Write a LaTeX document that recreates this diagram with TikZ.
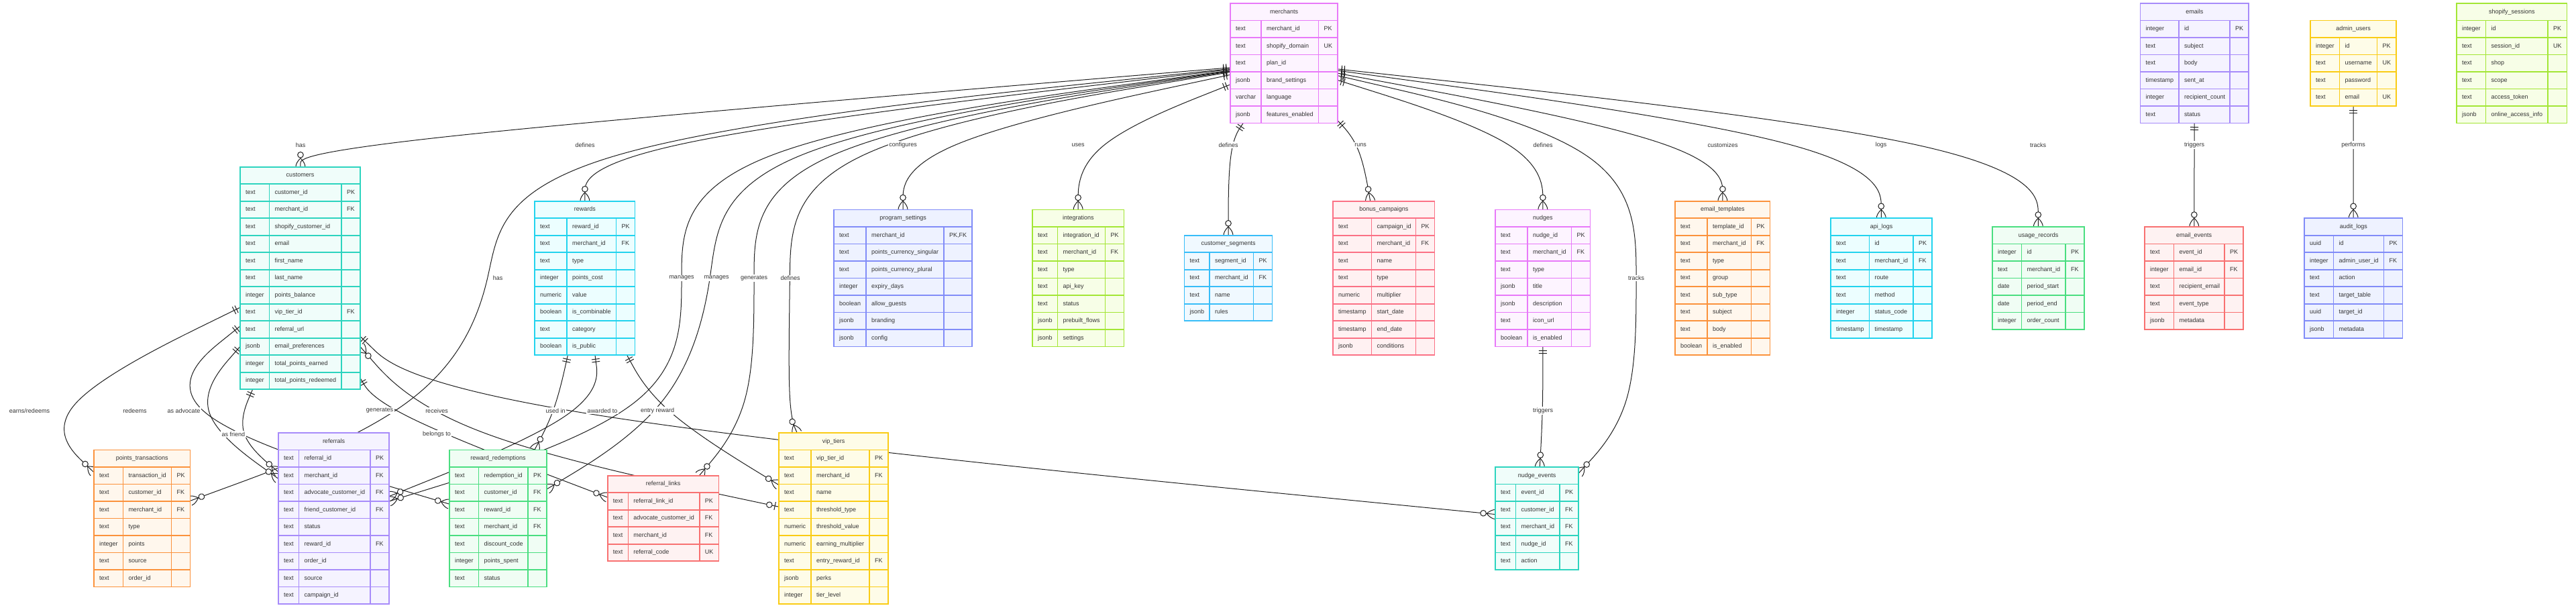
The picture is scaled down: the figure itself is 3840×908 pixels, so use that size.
\documentclass[tikz,border=0pt]{standalone}
\usepackage{fontspec}
\setmainfont{Liberation Sans}
\usetikzlibrary{calc,fit,backgrounds,positioning}

\definecolor{ertext}{HTML}{333333}
\definecolor{erline}{HTML}{1F1F1F}
\definecolor{erfuchsia}{HTML}{E879F9}\definecolor{erfuchsiabg}{HTML}{FDF4FF}
\definecolor{erteal}{HTML}{2DD4BF}\definecolor{ertealbg}{HTML}{F0FDFA}
\definecolor{ercyan}{HTML}{22D3EE}\definecolor{ercyanbg}{HTML}{ECFEFF}
\definecolor{erindigo}{HTML}{818CF8}\definecolor{erindigobg}{HTML}{EEF2FF}
\definecolor{erlime}{HTML}{A3E635}\definecolor{erlimebg}{HTML}{F7FEE7}
\definecolor{ersky}{HTML}{38BDF8}\definecolor{erskybg}{HTML}{F0F9FF}
\definecolor{errose}{HTML}{FB7185}\definecolor{errosebg}{HTML}{FFF1F2}
\definecolor{erorange}{HTML}{FB923C}\definecolor{erorangebg}{HTML}{FFF7ED}
\definecolor{ergreen}{HTML}{4ADE80}\definecolor{ergreenbg}{HTML}{F0FDF4}
\definecolor{erviolet}{HTML}{A78BFA}\definecolor{ervioletbg}{HTML}{F5F3FF}
\definecolor{eryellow}{HTML}{FACC15}\definecolor{eryellowbg}{HTML}{FEFCE8}
\definecolor{erred}{HTML}{F87171}\definecolor{erredbg}{HTML}{FEF2F2}

% crow's foot ends (tip sits on the table border)
\pgfdeclarearrow{
  name = ER one,
  setup code = {\pgfarrowssettipend{0pt}\pgfarrowssetlineend{0pt}\pgfarrowssetbackend{-11pt}},
  drawing code = {
    \pgfsetdash{}{0pt}
    \pgfpathmoveto{\pgfqpoint{-6pt}{-6pt}}\pgfpathlineto{\pgfqpoint{-6pt}{6pt}}
    \pgfpathmoveto{\pgfqpoint{-10pt}{-6pt}}\pgfpathlineto{\pgfqpoint{-10pt}{6pt}}
    \pgfusepathqstroke
  }
}
\pgfdeclarearrow{
  name = ER zmany,
  setup code = {\pgfarrowssettipend{0pt}\pgfarrowssetlineend{0pt}\pgfarrowssetbackend{-23pt}},
  drawing code = {
    \pgfsetdash{}{0pt}
    \pgfpathmoveto{\pgfqpoint{-13pt}{0pt}}
    \pgfpathquadraticcurveto{\pgfqpoint{-6pt}{7pt}}{\pgfqpoint{0pt}{7pt}}
    \pgfpathmoveto{\pgfqpoint{-13pt}{0pt}}
    \pgfpathquadraticcurveto{\pgfqpoint{-6pt}{-7pt}}{\pgfqpoint{0pt}{-7pt}}
    \pgfusepathqstroke
    \pgfpathcircle{\pgfqpoint{-18pt}{0pt}}{4.3pt}
    \pgfsetfillcolor{white}
    \pgfusepathqfillstroke
  }
}
\pgfdeclarearrow{
  name = ER zone,
  setup code = {\pgfarrowssettipend{0pt}\pgfarrowssetlineend{0pt}\pgfarrowssetbackend{-19pt}},
  drawing code = {
    \pgfsetdash{}{0pt}
    \pgfpathmoveto{\pgfqpoint{-6pt}{-6pt}}\pgfpathlineto{\pgfqpoint{-6pt}{6pt}}
    \pgfusepathqstroke
    \pgfpathcircle{\pgfqpoint{-14.5pt}{0pt}}{4.3pt}
    \pgfsetfillcolor{white}
    \pgfusepathqfillstroke
  }
}

% entity: name, title, top left, type/name/key widths, colour, rows
\newcommand{\ertable}[8]{%
  \pgfmathsetmacro{\erwt}{#4+#5+#6-16}%
  \pgfmathsetmacro{\erwa}{#4-16}\pgfmathsetmacro{\erwb}{#5-16}\pgfmathsetmacro{\erwc}{#6-16}%
  \node[ercell, draw=#7, fill=#7bg, text width=\erwt pt, align=center] (#1-h) at (#3) {#2};
  \foreach \ty/\nm/\ky [count=\i] in {#8} {
    \node[ercell, draw=#7, fill=#7bg, text width=\erwa pt] (#1-t\i)
      at ($(#1-h.south west)+(0,25.5*\i-25.5)$) {\ty};
    \node[ercell, draw=#7, fill=#7bg, text width=\erwb pt] (#1-n\i) at (#1-t\i.north east) {\nm};
    \node[ercell, draw=#7, fill=#7bg, text width=\erwc pt] (#1-k\i) at (#1-n\i.north east) {\ky};
    \xdef\erlast{\i}
  }
  \node[fit=(#1-h)(#1-k\erlast), inner sep=0pt, outer sep=0pt] (#1) {};
}

% relation through its label: from, label, to
\newcommand{\relshort}[4]{%
  \path (#2) -- (#3) coordinate[pos=0] (ra);
  \path (#4) -- (#3) coordinate[pos=0] (rb);
  \draw[rel,#1] (ra) -- ($(ra)!0.1666667!(#3)$)
    .. controls ($(ra)!0.3333333!(#3)$) and ($(ra)!0.6666667!(#3)$)
    .. ($0.1666667*(ra)+0.6666667*(#3)+0.1666667*(rb)$)
    .. controls ($(#3)!0.3333333!(rb)$) and ($(#3)!0.6666667!(rb)$)
    .. ($(#3)!0.8333333!(rb)$) -- (rb);
}
% relation over two ranks: from, bend, label, bend, to
\newcommand{\rellong}[6]{%
  \path (#2) -- (#3) coordinate[pos=0] (ra);
  \path (#6) -- (#5) coordinate[pos=0] (rb);
  \draw[rel,#1] (ra) -- ($(ra)!0.1666667!(#3)$)
    .. controls ($(ra)!0.3333333!(#3)$) and ($(ra)!0.6666667!(#3)$)
    .. ($0.1666667*(ra)+0.6666667*(#3)+0.1666667*(#4)$)
    .. controls ($(#3)!0.3333333!(#4)$) and ($(#3)!0.6666667!(#4)$)
    .. ($0.1666667*(#3)+0.6666667*(#4)+0.1666667*(#5)$)
    .. controls ($(#4)!0.3333333!(#5)$) and ($(#4)!0.6666667!(#5)$)
    .. ($0.1666667*(#4)+0.6666667*(#5)+0.1666667*(rb)$)
    .. controls ($(#5)!0.3333333!(rb)$) and ($(#5)!0.6666667!(rb)$)
    .. ($(#5)!0.8333333!(rb)$) -- (rb);
}

\begin{document}
\begin{tikzpicture}[x=1pt, y=-1pt,
  ercell/.style={rectangle, anchor=north west, line width=1.6pt, inner xsep=8pt,
    inner ysep=0pt, outer sep=0pt, minimum height=25.5pt, align=left,
    font=\fontsize{9}{11}\selectfont, text=ertext, text height=6.6pt, text depth=2pt},
  erlabel/.style={fill=white, inner sep=1.5pt, font=\fontsize{9}{11}\selectfont, text=ertext},
  rel/.style={line width=1pt, draw=erline},
  onemany/.style={arrows={{ER one}-{ER zmany}}},
  manyzone/.style={arrows={{ER zmany}-{ER zone}}}
]
\useasboundingbox (0,0) rectangle (3840,908);

% rank 0
\ertable{merchants}{merchants}{1834,5}{46}{85.5}{28.5}{erfuchsia}{
  text/merchant\_id/PK, text/shopify\_domain/UK, text/plan\_id/{},
  jsonb/brand\_settings/{}, varchar/language/{}, jsonb/features\_enabled/{}}
\ertable{emails}{emails}{3190.5,5}{57.5}{76}{28}{erviolet}{
  integer/id/PK, text/subject/{}, text/body/{}, timestamp/sent\_at/{},
  integer/recipient\_count/{}, text/status/{}}
\ertable{admins}{admin\_users}{3444,30.5}{43.5}{56}{28.5}{eryellow}{
  integer/id/PK, text/username/UK, text/password/{}, text/email/UK}
\ertable{sessions}{shopify\_sessions}{3662,5}{43.5}{92.5}{28.5}{erlime}{
  integer/id/PK, text/session\_id/UK, text/shop/{}, text/scope/{},
  text/access\_token/{}, jsonb/online\_access\_info/{}}

% rank 1
\ertable{customers}{customers}{358,248.75}{43.5}{107.5}{28}{erteal}{
  text/customer\_id/PK, text/merchant\_id/FK, text/shopify\_customer\_id/{},
  text/email/{}, text/first\_name/{}, text/last\_name/{}, integer/points\_balance/{},
  text/vip\_tier\_id/FK, text/referral\_url/{}, jsonb/email\_preferences/{},
  integer/total\_points\_earned/{}, integer/total\_points\_redeemed/{}}
\ertable{rewards}{rewards}{797,299.75}{48}{73.5}{28}{ercyan}{
  text/reward\_id/PK, text/merchant\_id/FK, text/type/{}, integer/points\_cost/{},
  numeric/value/{}, boolean/is\_combinable/{}, text/category/{}, boolean/is\_public/{}}
\ertable{settings}{program\_settings}{1243,312.5}{48}{116}{42}{erindigo}{
  text/merchant\_id/{PK,FK}, text/points\_currency\_singular/{},
  text/points\_currency\_plural/{}, integer/expiry\_days/{}, boolean/allow\_guests/{},
  jsonb/branding/{}, jsonb/config/{}}
\ertable{integrations}{integrations}{1539,312.5}{37.5}{71}{28}{erlime}{
  text/integration\_id/PK, text/merchant\_id/FK, text/type/{}, text/api\_key/{},
  text/status/{}, jsonb/prebuilt\_flows/{}, jsonb/settings/{}}
\ertable{segments}{customer\_segments}{1765.5,350.75}{37.5}{65.5}{28}{ersky}{
  text/segment\_id/PK, text/merchant\_id/FK, text/name/{}, jsonb/rules/{}}
\ertable{campaigns}{bonus\_campaigns}{1987,299.75}{57.5}{66}{28}{errose}{
  text/campaign\_id/PK, text/merchant\_id/FK, text/name/{}, text/type/{},
  numeric/multiplier/{}, timestamp/start\_date/{}, timestamp/end\_date/{}, jsonb/conditions/{}}
\ertable{nudges}{nudges}{2229,312.5}{48}{65.5}{28}{erfuchsia}{
  text/nudge\_id/PK, text/merchant\_id/FK, text/type/{}, jsonb/title/{},
  jsonb/description/{}, text/icon\_url/{}, boolean/is\_enabled/{}}
\ertable{templates}{email\_templates}{2497,299.75}{48}{65.5}{28}{erorange}{
  text/template\_id/PK, text/merchant\_id/FK, text/type/{}, text/group/{},
  text/sub\_type/{}, text/subject/{}, text/body/{}, boolean/is\_enabled/{}}
\ertable{apilogs}{api\_logs}{2729,325.25}{57.5}{65.5}{28}{ercyan}{
  text/id/PK, text/merchant\_id/FK, text/route/{}, text/method/{},
  integer/status\_code/{}, timestamp/timestamp/{}}
\ertable{usage}{usage\_records}{2970,338}{43.5}{65.5}{28}{ergreen}{
  integer/id/PK, text/merchant\_id/FK, date/period\_start/{}, date/period\_end/{},
  integer/order\_count/{}}
\ertable{mailevents}{email\_events}{3197,338}{43.5}{75.7}{28}{erred}{
  text/event\_id/PK, integer/email\_id/FK, text/recipient\_email/{},
  text/event\_type/{}, jsonb/metadata/{}}
\ertable{audit}{audit\_logs}{3435,325.25}{43.5}{75}{28}{erindigo}{
  uuid/id/PK, integer/admin\_user\_id/FK, text/action/{}, text/target\_table/{},
  uuid/target\_id/{}, jsonb/metadata/{}}

% rank 2
\ertable{points}{points\_transactions}{140,670.5}{43.5}{72}{28}{erorange}{
  text/transaction\_id/PK, text/customer\_id/FK, text/merchant\_id/FK, text/type/{},
  integer/points/{}, text/source/{}, text/order\_id/{}}
\ertable{referrals}{referrals}{415,645}{30.5}{106.5}{28}{erviolet}{
  text/referral\_id/PK, text/merchant\_id/FK, text/advocate\_customer\_id/FK,
  text/friend\_customer\_id/FK, text/status/{}, text/reward\_id/FK, text/order\_id/{},
  text/source/{}, text/campaign\_id/{}}
\ertable{redemptions}{reward\_redemptions}{670,670.5}{43.5}{73.5}{28}{ergreen}{
  text/redemption\_id/PK, text/customer\_id/FK, text/reward\_id/FK, text/merchant\_id/FK,
  text/discount\_code/{}, integer/points\_spent/{}, text/status/{}}
\ertable{links}{referral\_links}{905.8,708.75}{30.5}{106.5}{28.5}{erred}{
  text/referral\_link\_id/PK, text/advocate\_customer\_id/FK, text/merchant\_id/FK,
  text/referral\_code/UK}
\ertable{tiers}{vip\_tiers}{1161,645}{48}{87}{28}{eryellow}{
  text/vip\_tier\_id/PK, text/merchant\_id/FK, text/name/{}, text/threshold\_type/{},
  numeric/threshold\_value/{}, numeric/earning\_multiplier/{}, text/entry\_reward\_id/FK,
  jsonb/perks/{}, integer/tier\_level/{}}
\ertable{nudgeevents}{nudge\_events}{2229,696}{30.5}{65.5}{28}{erteal}{
  text/event\_id/PK, text/customer\_id/FK, text/merchant\_id/FK, text/nudge\_id/FK,
  text/action/{}}

% labels
\node[erlabel] (l-has) at (448,216) {has};
\node[erlabel] (l-defrew) at (872,216) {defines};
\node[erlabel] (l-conf) at (1346,216) {configures};
\node[erlabel] (l-uses) at (1607,216) {uses};
\node[erlabel] (l-defseg) at (1831,216) {defines};
\node[erlabel] (l-runs) at (2028,216) {runs};
\node[erlabel] (l-defnud) at (2300,216) {defines};
\node[erlabel] (l-cust) at (2568,216) {customizes};
\node[erlabel] (l-logs) at (2804,216) {logs};
\node[erlabel] (l-trackuse) at (3038,216) {tracks};
\node[erlabel] (l-trigmail) at (3271,216) {triggers};
\node[erlabel] (l-perf) at (3508,216) {performs};

\node[erlabel] (l-haspts) at (742,414.5) {has};
\node[erlabel] (l-manref) at (1016,414.5) {manages};
\node[erlabel] (l-manred) at (1068,414.5) {manages};
\node[erlabel] (l-genlink) at (1124,414.5) {generates};
\node[erlabel] (l-defvip) at (1178,414.5) {defines};
\node[erlabel] (l-tracknud) at (2439,414.5) {tracks};

\node[erlabel] (l-earn) at (44,612) {earns/redeems};
\node[erlabel] (l-redeem) at (201,612) {redeems};
\node[erlabel] (l-adv) at (274,612) {as advocate};
\node[erlabel] (l-friend) at (348,647) {as friend};
\node[erlabel] (l-genref) at (566,612) {generates};
\node[erlabel] (l-recv) at (651,612) {receives};
\node[erlabel] (l-belong) at (651,647) {belongs to};
\node[erlabel] (l-used) at (828,612) {used in};
\node[erlabel] (l-award) at (898,612) {awarded to};
\node[erlabel] (l-entry) at (980,612) {entry reward};
\node[erlabel] (l-trignud) at (2300,612) {triggers};

% bends of the long relations
\coordinate (b-haspts1) at (742,216);   \coordinate (b-haspts3) at (650,612);
\coordinate (b-manref1) at (1016,216);  \coordinate (b-manref3) at (1016,612);
\coordinate (b-manred1) at (1068,216);  \coordinate (b-manred3) at (1009,612);
\coordinate (b-genlink1) at (1124,216); \coordinate (b-genlink3) at (1124,612);
\coordinate (b-defvip1) at (1178,216);  \coordinate (b-defvip3) at (1174,612);
\coordinate (b-tracknud1) at (2439,216);\coordinate (b-tracknud3) at (2439,612);

\begin{pgfonlayer}{background}
  % merchants to rank 1
  \relshort{onemany}{merchants}{l-has}{customers}
  \relshort{onemany}{merchants}{l-defrew}{rewards}
  \relshort{onemany}{merchants}{l-conf}{settings}
  \relshort{onemany}{merchants}{l-uses}{integrations}
  \relshort{onemany}{merchants}{l-defseg}{segments}
  \relshort{onemany}{merchants}{l-runs}{campaigns}
  \relshort{onemany}{merchants}{l-defnud}{nudges}
  \relshort{onemany}{merchants}{l-cust}{templates}
  \relshort{onemany}{merchants}{l-logs}{apilogs}
  \relshort{onemany}{merchants}{l-trackuse}{usage}
  \relshort{onemany}{emails}{l-trigmail}{mailevents}
  \relshort{onemany}{admins}{l-perf}{audit}

  % merchants to rank 2
  \rellong{onemany}{merchants}{b-haspts1}{l-haspts}{b-haspts3}{points}
  \rellong{onemany}{merchants}{b-manref1}{l-manref}{b-manref3}{referrals}
  \rellong{onemany}{merchants}{b-manred1}{l-manred}{b-manred3}{redemptions}
  \rellong{onemany}{merchants}{b-genlink1}{l-genlink}{b-genlink3}{links}
  \rellong{onemany}{merchants}{b-defvip1}{l-defvip}{b-defvip3}{tiers}
  \rellong{onemany}{merchants}{b-tracknud1}{l-tracknud}{b-tracknud3}{nudgeevents}

  % rank 1 to rank 2
  \relshort{onemany}{customers}{l-earn}{points}
  \relshort{onemany}{customers}{l-redeem}{redemptions}
  \relshort{onemany}{customers}{l-adv}{referrals}
  \relshort{onemany}{customers}{l-friend}{referrals}
  \relshort{onemany}{customers}{l-genref}{links}
  \relshort{onemany}{customers}{l-recv}{nudgeevents}
  \relshort{manyzone}{customers}{l-belong}{tiers}
  \relshort{onemany}{rewards}{l-used}{redemptions}
  \relshort{onemany}{rewards}{l-award}{referrals}
  \relshort{onemany}{rewards}{l-entry}{tiers}
  \relshort{onemany}{nudges}{l-trignud}{nudgeevents}
\end{pgfonlayer}
\end{tikzpicture}
\end{document}
